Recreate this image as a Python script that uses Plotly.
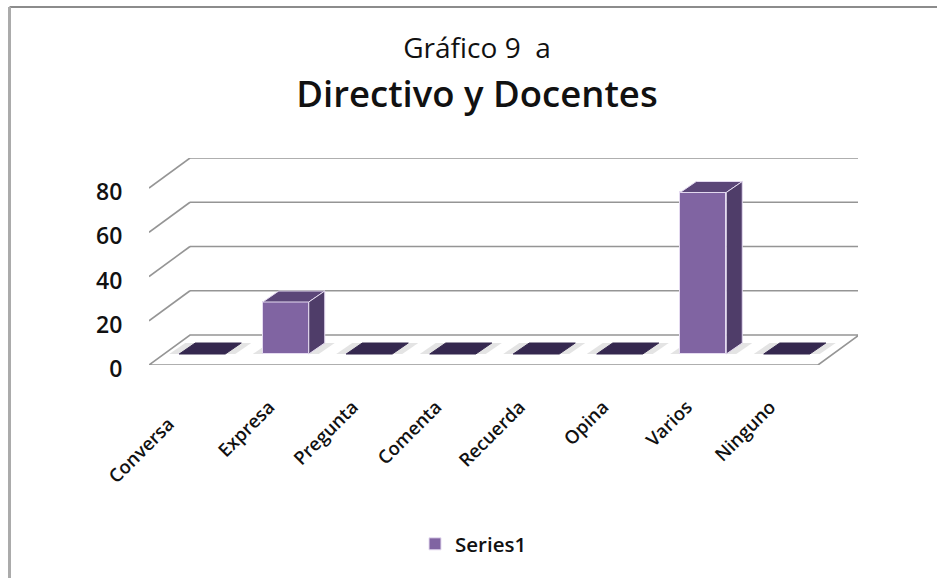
import plotly.graph_objects as go

categories = ["Conversa", "Expresa", "Pregunta", "Comenta", "Recuerda", "Opina", "Varios", "Ninguno"]
values = [0, 23.5, 0, 0, 0, 0, 73, 0]
y_ticks = [0, 20, 40, 60, 80]
series_name = "Series1"

W, H = 937, 578
PX0, PX1 = 149, 858      # plot area, pixels
PY0, PY1 = 365, 158
CAT_PX = 83.5
VAL_PX = 2.2125

def ux(px):
    return px / CAT_PX

def uy(px):
    return px / VAL_PX

x_max = ux(PX1 - PX0)
y_max = uy(PY0 - PY1)
WALL_DX, WALL_DY = ux(41), uy(30)
BAR_W = ux(46)
BAR_SHIFT = ux(11.5)
BAR_BASE = uy(11)
BAR_DX, BAR_DY = ux(16), uy(11)
CENTER = [i + 0.5 for i in range(len(categories))]
BAR_X = [c + BAR_SHIFT for c in CENTER]
# the first label sits further down its slanted line in the reference
tick_labels = [categories[0] + "\u00a0" * 5] + categories[1:]

FONT = "Open Sans, Noto Sans, sans-serif"
FRONT, TOP, SIDE, FLAT = "#8064A2", "#5B4678", "#4F3D69", "#35284F"
GRID = "#959595"

shapes = [
    # outer frame: only the top and left edges fall inside the picture
    dict(type="line", xref="paper", yref="paper", x0=9.5 / W, x1=1, y0=1 - 7 / H, y1=1 - 7 / H,
         line=dict(color="#8c8c8c", width=2), layer="below"),
    dict(type="line", xref="paper", yref="paper", x0=9.5 / W, x1=9.5 / W, y0=0, y1=1 - 7 / H,
         line=dict(color="#ababab", width=3), layer="below"),
    # floor plate
    dict(type="path", layer="below", xref="x", yref="y",
         path=f"M 0 0 L {ux(669)} 0 L {ux(669) + WALL_DX} {WALL_DY} L {WALL_DX} {WALL_DY} Z",
         line=dict(color=GRID, width=1.6), fillcolor="white"),
]
for t in y_ticks[1:]:
    # back wall gridline and its left side wall edge
    shapes.append(dict(type="line", layer="below", xref="x", yref="y",
                       x0=WALL_DX, x1=x_max, y0=t + WALL_DY, y1=t + WALL_DY,
                       line=dict(color=GRID, width=1.6)))
    shapes.append(dict(type="line", layer="below", xref="x", yref="y",
                       x0=0, x1=WALL_DX, y0=t, y1=t + WALL_DY,
                       line=dict(color=GRID, width=1.6)))
# soft grey patch under each bar
for x in BAR_X:
    pad = ux(10)
    l, r = x - BAR_W / 2 - pad, x + BAR_W / 2 + pad
    shapes.append(dict(type="path", layer="below", xref="x", yref="y",
                       path=f"M {l} {BAR_BASE} L {r} {BAR_BASE} L {r + BAR_DX} {BAR_BASE + BAR_DY} "
                            f"L {l + BAR_DX} {BAR_BASE + BAR_DY} Z",
                       line=dict(width=0), fillcolor="#E4E4E4"))

fig = go.Figure()
fig.add_trace(go.Bar(
    x=BAR_X, y=values, base=BAR_BASE, width=BAR_W, name=series_name,
    marker=dict(color=FRONT, line=dict(color="#E4DAF0", width=1)),
    showlegend=True,
))
for x, v in zip(BAR_X, values):
    l, r = x - BAR_W / 2, x + BAR_W / 2
    top = BAR_BASE + v
    fig.add_trace(go.Scatter(
        x=[l, r, r + BAR_DX, l + BAR_DX, l], y=[top, top, top + BAR_DY, top + BAR_DY, top],
        mode="lines", fill="toself", fillcolor=TOP if v else FLAT,
        line=dict(color="#E4DAF0" if v else FLAT, width=1), showlegend=False, hoverinfo="skip"))
    if v:
        fig.add_trace(go.Scatter(
            x=[r, r + BAR_DX, r + BAR_DX, r, r],
            y=[BAR_BASE, BAR_BASE + BAR_DY, top + BAR_DY, top, BAR_BASE],
            mode="lines", fill="toself", fillcolor=SIDE,
            line=dict(color="#E4DAF0", width=1), showlegend=False, hoverinfo="skip"))

fig.update_layout(
    width=W, height=H, autosize=False,
    margin=dict(l=0, r=0, t=0, b=0),
    paper_bgcolor="white", plot_bgcolor="rgba(0,0,0,0)",
    font=dict(family=FONT, color="#111111"),
    shapes=shapes,
    bargap=0,
    title=dict(
        text="<span style='font-size:28px'>Gráfico 9  a</span><br>"
             "<span style='font-size:36.5px;font-weight:600'>Directivo y Docentes</span>",
        x=477 / W, xanchor="center", y=1 - 58 / H, yanchor="top",
        font=dict(family=FONT, color="#111111", size=38)),
    xaxis=dict(
        domain=[PX0 / W, PX1 / W], range=[0, x_max], showgrid=False, zeroline=False,
        automargin=False,
        tickmode="array", tickvals=CENTER, ticktext=tick_labels, tickangle=-45,
        ticks="outside", ticklen=23, tickcolor="rgba(0,0,0,0)", tickwidth=1, ticklabelshift=-5,
        tickfont=dict(size=18.5, family=FONT, color="#111111", weight=600), showline=False, fixedrange=True),
    yaxis=dict(
        domain=[1 - PY0 / H, 1 - PY1 / H], range=[0, y_max], showgrid=False, zeroline=False,
        automargin=False,
        tickmode="array", tickvals=y_ticks, ticks="outside", ticklen=21, ticklabelshift=4,
        tickcolor="rgba(0,0,0,0)", tickfont=dict(size=23, family=FONT, color="#111111", weight=600),
        showline=False, fixedrange=True),
    legend=dict(orientation="h", x=415 / W, xanchor="left", y=1 - 544 / H, yanchor="middle",
                bgcolor="rgba(0,0,0,0)", font=dict(size=20.5, family=FONT, color="#111111", weight=600),
                itemwidth=30),
)
fig.write_html("out.html", config=dict(displayModeBar=False),
               post_script="document.body.style.margin='0';document.body.style.overflow='hidden';")
